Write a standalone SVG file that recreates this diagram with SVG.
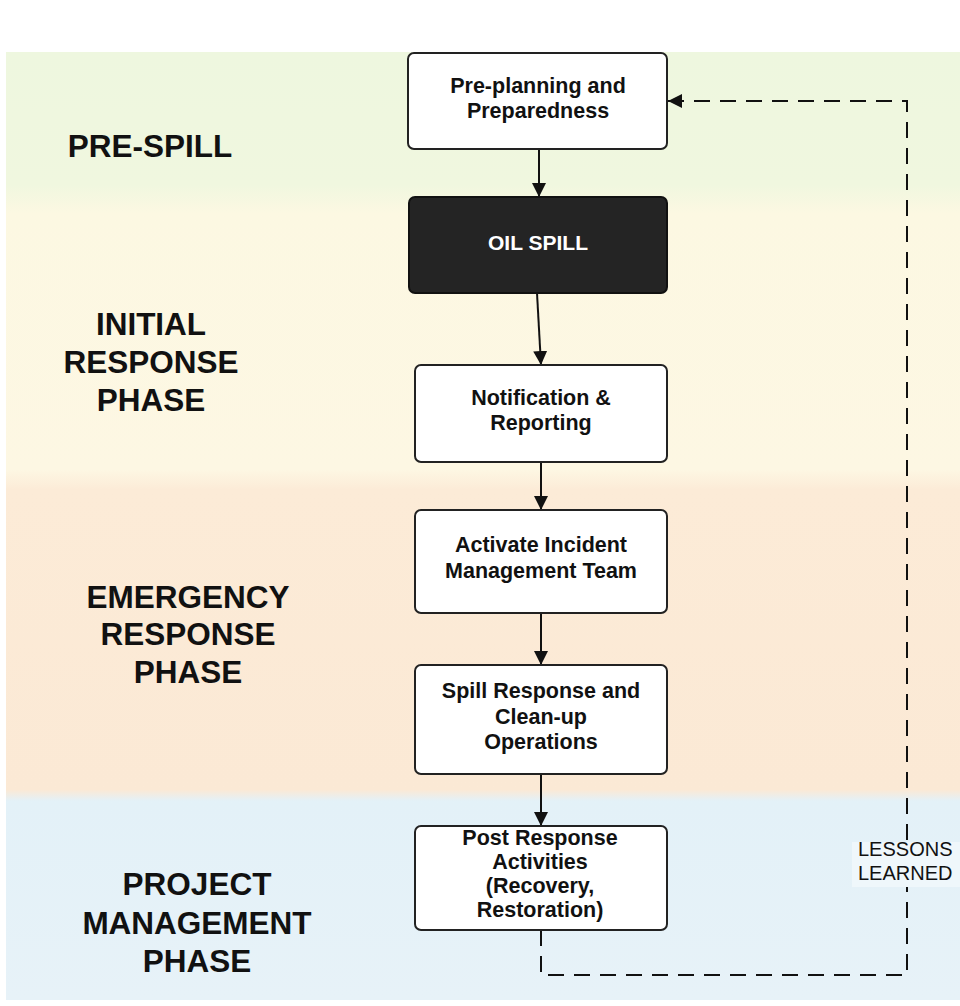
<svg xmlns="http://www.w3.org/2000/svg" width="960" height="1006" viewBox="0 0 960 1006">
  <defs>
    <linearGradient id="bands" gradientUnits="userSpaceOnUse" x1="0" y1="52" x2="0" y2="1000">
      <stop offset="0" stop-color="#eef7df"/>
      <stop offset="0.14" stop-color="#f0f7df"/>
      <stop offset="0.17" stop-color="#fcf8e2"/>
      <stop offset="0.44" stop-color="#fdf7e3"/>
      <stop offset="0.462" stop-color="#fcebd7"/>
      <stop offset="0.778" stop-color="#fbe9d5"/>
      <stop offset="0.79" stop-color="#e3f1f8"/>
      <stop offset="1" stop-color="#e7f2f8"/>
    </linearGradient>
    <marker id="arrow" markerUnits="userSpaceOnUse" markerWidth="14" markerHeight="16" refX="14" refY="7" orient="auto">
      <path d="M0,0 L14,7 L0,14 Z" fill="#111"/>
    </marker>
  </defs>
  <style>
    .node { fill: #ffffff; stroke: #222222; stroke-width: 2; }
    .dark { fill: #242424; stroke: #111111; stroke-width: 2; }
    .ntext { font-family: "Liberation Sans", Arial, sans-serif; font-weight: bold; font-size: 21.5px; fill: #111; text-anchor: middle; }
    .wtext { font-family: "Liberation Sans", Arial, sans-serif; font-weight: bold; font-size: 21px; fill: #ffffff; text-anchor: middle; }
    .phase { font-family: "Liberation Sans", Arial, sans-serif; font-weight: bold; font-size: 31.5px; fill: #111; text-anchor: middle; }
    .conn { stroke: #111; stroke-width: 2; fill: none; }
    .dash { stroke: #111; stroke-width: 2; fill: none; stroke-dasharray: 16 10; }
    .lbl { font-family: "Liberation Sans", Arial, sans-serif; font-size: 20px; fill: #111; }
  </style>

  <rect x="0" y="0" width="960" height="1006" fill="#ffffff"/>
  <rect x="6" y="52" width="954" height="948" fill="url(#bands)"/>

  <g id="phase-labels">
    <text class="phase" x="150" y="157">PRE-SPILL</text>
    <text class="phase" x="151" y="335">INITIAL</text>
    <text class="phase" x="151" y="373">RESPONSE</text>
    <text class="phase" x="151" y="411">PHASE</text>
    <text class="phase" x="188" y="608">EMERGENCY</text>
    <text class="phase" x="188" y="645">RESPONSE</text>
    <text class="phase" x="188" y="683">PHASE</text>
    <text class="phase" x="197" y="895">PROJECT</text>
    <text class="phase" x="197" y="934">MANAGEMENT</text>
    <text class="phase" x="197" y="972">PHASE</text>
  </g>

  <g id="connectors">
    <line class="conn" x1="539" y1="149" x2="539" y2="197" marker-end="url(#arrow)"/>
    <line class="conn" x1="537" y1="293" x2="541" y2="365" marker-end="url(#arrow)"/>
    <line class="conn" x1="541" y1="462" x2="541" y2="510" marker-end="url(#arrow)"/>
    <line class="conn" x1="541" y1="613" x2="541" y2="665" marker-end="url(#arrow)"/>
    <line class="conn" x1="541" y1="774" x2="541" y2="826" marker-end="url(#arrow)"/>
    <path class="dash" d="M541,930 L541,975 L907,975 L907,101 L668,101" marker-end="url(#arrow)"/>
  </g>

  <g id="lessons-learned">
    <rect x="852" y="842" width="108" height="45" fill="#eff7fb"/>
    <text class="lbl" x="858" y="856">LESSONS</text>
    <text class="lbl" x="858" y="880">LEARNED</text>
  </g>

  <g id="node-preplanning">
    <rect class="node" x="408" y="53" width="259" height="96" rx="6"/>
    <text class="ntext" x="538" y="93">Pre-planning and</text>
    <text class="ntext" x="538" y="118">Preparedness</text>
  </g>

  <g id="node-oilspill">
    <rect class="dark" x="409" y="197" width="258" height="96" rx="6"/>
    <text class="wtext" x="538" y="250">OIL SPILL</text>
  </g>

  <g id="node-notification">
    <rect class="node" x="415" y="365" width="252" height="97" rx="6"/>
    <text class="ntext" x="541" y="405">Notification &amp;</text>
    <text class="ntext" x="541" y="430">Reporting</text>
  </g>

  <g id="node-activate">
    <rect class="node" x="415" y="510" width="252" height="103" rx="6"/>
    <text class="ntext" x="541" y="552">Activate Incident</text>
    <text class="ntext" x="541" y="578">Management Team</text>
  </g>

  <g id="node-spillresponse">
    <rect class="node" x="415" y="665" width="252" height="109" rx="6"/>
    <text class="ntext" x="541" y="698">Spill Response and</text>
    <text class="ntext" x="541" y="724">Clean-up</text>
    <text class="ntext" x="541" y="749">Operations</text>
  </g>

  <g id="node-postresponse">
    <rect class="node" x="415" y="826" width="252" height="104" rx="6"/>
    <text class="ntext" x="540" y="845">Post Response</text>
    <text class="ntext" x="540" y="869">Activities</text>
    <text class="ntext" x="540" y="893">(Recovery,</text>
    <text class="ntext" x="540" y="917">Restoration)</text>
  </g>
</svg>
